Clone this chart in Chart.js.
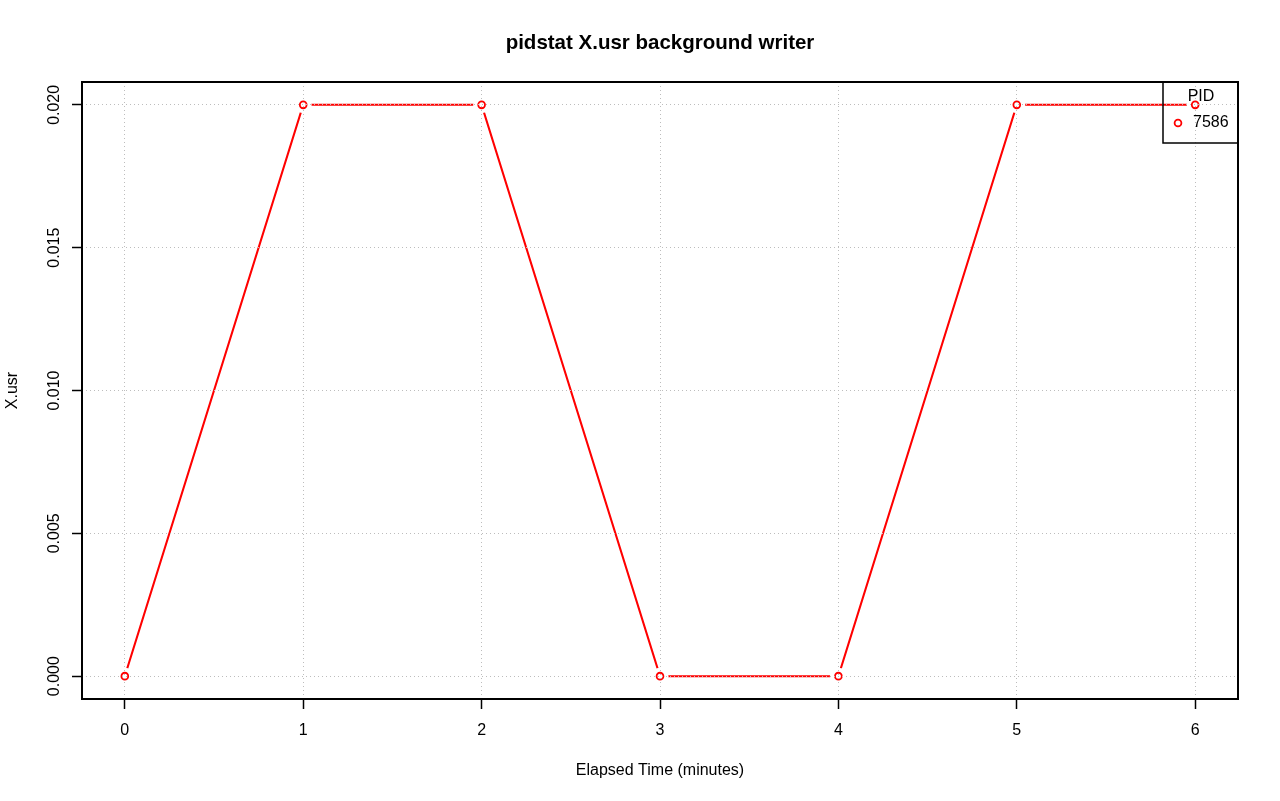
<!DOCTYPE html>
<html>
<head>
<meta charset="utf-8">
<script src="https://cdn.jsdelivr.net/npm/chart.js@4"></script>
<style>
  html, body { margin: 0; padding: 0; background: #fff; }
</style>
</head>
<body>
<canvas id="usrChart" width="1280" height="801"></canvas>
<script>
const minutes = [0, 1, 2, 3, 4, 5, 6];
const usr7586 = [0, 0.02, 0.02, 0, 0, 0.02, 0.02];
const xTicks = [0, 1, 2, 3, 4, 5, 6];
const yTicks = [0, 0.005, 0.010, 0.015, 0.020];
const pid = '7586';

const FONT = "'Liberation Sans', Arial, Helvetica, sans-serif";
Chart.defaults.font.family = FONT;
Chart.defaults.color = '#000';

const points = minutes.map((m, i) => ({ x: m, y: usr7586[i] }));

// plot box, like R's box()
const boxPlugin = {
    id: 'box',
    afterDraw: (chart) => {
        const { ctx, chartArea: a } = chart;
        ctx.save();
        ctx.strokeStyle = '#000';
        ctx.lineWidth = 2;
        ctx.strokeRect(a.left, a.top, a.right - a.left, a.bottom - a.top);
        ctx.restore();
    }
};

// R-style legend in the top right corner
const legendPlugin = {
    id: 'rlegend',
    afterDraw: (chart) => {
        const { ctx, chartArea: a } = chart;
        const w = 75, h = 61;
        const left = a.right - w, top = a.top;
        ctx.save();
        ctx.strokeStyle = '#000';
        ctx.lineWidth = 1.5;
        ctx.strokeRect(left, top, w, h);
        ctx.font = '16px ' + FONT;
        ctx.fillStyle = '#000';
        ctx.textBaseline = 'middle';
        ctx.textAlign = 'center';
        ctx.fillText('PID', left + 38, top + 15);
        ctx.textAlign = 'left';
        ctx.fillText(pid, left + 30, top + 41);
        ctx.strokeStyle = '#ff0000';
        ctx.lineWidth = 1.8;
        ctx.beginPath();
        ctx.arc(left + 15, top + 41, 3.4, 0, Math.PI * 2);
        ctx.stroke();
        ctx.restore();
    }
};

new Chart(document.getElementById('usrChart'), {
    type: 'line',
    plugins: [boxPlugin, legendPlugin],
    data: {
        datasets: [
            {
                label: pid,
                data: points,
                showLine: false,
                pointStyle: 'circle',
                pointRadius: 3.4,
                pointBorderWidth: 1.8,
                pointBorderColor: '#ff0000',
                pointBackgroundColor: '#ffffff'
            },
            {
                label: 'gap',
                data: points,
                showLine: false,
                pointRadius: 8.5,
                pointBorderWidth: 0,
                pointBorderColor: '#ffffff',
                pointBackgroundColor: '#ffffff'
            },
            {
                label: 'line',
                data: points,
                borderColor: '#ff0000',
                borderWidth: 2,
                tension: 0,
                pointRadius: 0
            }
        ]
    },
    options: {
        responsive: false,
        animation: false,
        events: [],
        layout: { padding: { left: 0, right: 42, top: 0, bottom: 0 } },
        plugins: {
            legend: { display: false },
            tooltip: { enabled: false },
            title: {
                display: true,
                fullSize: false,
                text: 'pidstat X.usr background writer',
                font: { size: 20.5, weight: 'bold' },
                padding: { top: 31, bottom: 26.4 }
            }
        },
        scales: {
            x: {
                type: 'linear',
                min: -0.24,
                max: 6.24,
                afterBuildTicks: (scale) => { scale.ticks = xTicks.map(v => ({ value: v })); },
                afterFit: (scale) => { scale.height = 102; },
                ticks: {
                    font: { size: 16 },
                    padding: 12,
                    maxRotation: 0,
                    callback: (v) => String(v)
                },
                grid: {
                    z: 1,
                    color: '#bdbdbd',
                    lineWidth: 1,
                    tickColor: '#000',
                    tickWidth: 1.5,
                    tickLength: 10,
                    tickBorderDash: []
                },
                border: { display: false, dash: [1, 3] },
                title: {
                    display: true,
                    text: 'Elapsed Time (minutes)',
                    font: { size: 16 },
                    padding: { top: 0, bottom: 21 }
                }
            },
            y: {
                type: 'linear',
                min: -0.0008,
                max: 0.0208,
                afterBuildTicks: (scale) => { scale.ticks = yTicks.map(v => ({ value: v })); },
                afterFit: (scale) => { scale.width = 82; },
                ticks: {
                    font: { size: 16 },
                    padding: -3,
                    minRotation: 90,
                    maxRotation: 90,
                    crossAlign: 'center',
                    callback: (v) => v.toFixed(3)
                },
                grid: {
                    z: 1,
                    color: '#bdbdbd',
                    lineWidth: 1,
                    tickColor: '#000',
                    tickWidth: 1.5,
                    tickLength: 10,
                    tickBorderDash: []
                },
                border: { display: false, dash: [1, 3] },
                title: {
                    display: true,
                    text: 'X.usr',
                    font: { size: 16 },
                    padding: { top: 2.5, bottom: 0 }
                }
            }
        }
    }
});
</script>
</body>
</html>
